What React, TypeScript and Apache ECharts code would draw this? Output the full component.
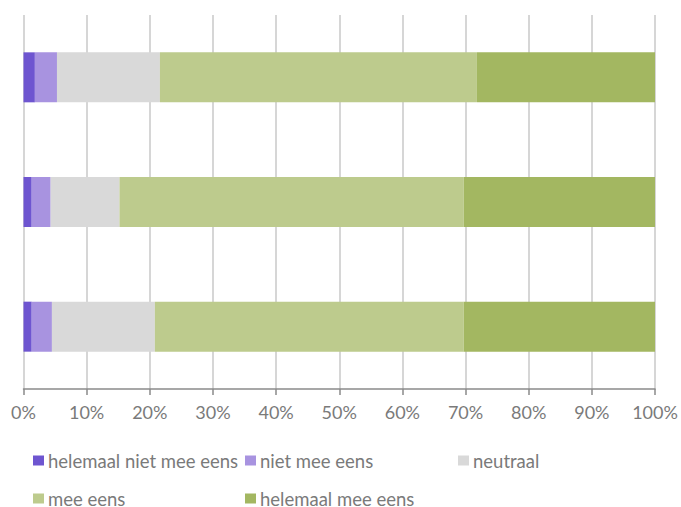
import React, { useEffect, useRef } from "react";
import * as echarts from "echarts";

const categories = ["Stelling 1", "Stelling 2", "Stelling 3"];
const seriesNames = ["helemaal niet mee eens", "niet mee eens", "neutraal", "mee eens", "helemaal mee eens"];
const helemaalNietMeeEens = [1.8, 1.3, 1.3];
const nietMeeEens = [3.5, 3.0, 3.2];
const neutraal = [16.3, 10.9, 16.3];
const meeEens = [50.2, 54.5, 48.9];
const helemaalMeeEens = [28.2, 30.3, 30.3];
const xTicks = [0, 10, 20, 30, 40, 50, 60, 70, 80, 90, 100];

const colors = ["#6E55D0", "#A893E0", "#D9D9D9", "#BDCB8D", "#A3B761"];
const values = [helemaalNietMeeEens, nietMeeEens, neutraal, meeEens, helemaalMeeEens];

const FONT = "Lato, 'DejaVu Sans', sans-serif";
const TEXT_COLOR = "#7a7a7a";

const legendPos = [
  { left: 33, top: 451 },
  { left: 245, top: 451 },
  { left: 458, top: 451 },
  { left: 33, top: 489 },
  { left: 245, top: 489 },
];

export default function App() {
  const ref = useRef<HTMLDivElement>(null);
  useEffect(() => {
    if (!ref.current) return;
    const chart = echarts.init(ref.current, null, { renderer: "svg" });
    chart.setOption({
      animation: false,
      color: colors,
      grid: { left: 23.5, right: 26, top: 15, bottom: 118, containLabel: false },
      xAxis: {
        type: "value",
        min: xTicks[0],
        max: xTicks[xTicks.length - 1],
        interval: 10,
        axisLine: { show: true, lineStyle: { color: "#8a8a8a", width: 1.5 } },
        axisTick: { show: true, length: 6, lineStyle: { color: "#8a8a8a", width: 1.5 } },
        splitLine: { show: true, lineStyle: { color: "#c8c8c8", width: 1.5 } },
        axisLabel: {
          formatter: "{value}%",
          color: TEXT_COLOR,
          fontSize: 18,
          fontFamily: FONT,
          margin: 14,
        },
      },
      yAxis: {
        type: "category",
        data: categories,
        inverse: true,
        axisLine: { show: false },
        axisTick: { show: false },
        axisLabel: { show: false },
        splitLine: { show: false },
      },
      legend: seriesNames.map((name, i) => ({
        data: [name],
        left: legendPos[i].left,
        top: legendPos[i].top,
        padding: 0,
        itemWidth: 11,
        itemHeight: 10,
        icon: "rect",
        selectedMode: false,
        textStyle: { color: TEXT_COLOR, fontSize: 18.5, fontFamily: FONT, padding: [0, 0, 0, -1] },
      })),
      series: seriesNames.map((name, i) => ({
        name,
        type: "bar",
        stack: "total",
        barWidth: 50,
        data: values[i],
        itemStyle: { color: colors[i] },
      })),
    });
    return () => chart.dispose();
  }, []);
  return (
    <div
      ref={ref}
      style={{ position: "absolute", left: 0, top: 0, width: 681, height: 507, background: "#fff" }}
    />
  );
}
